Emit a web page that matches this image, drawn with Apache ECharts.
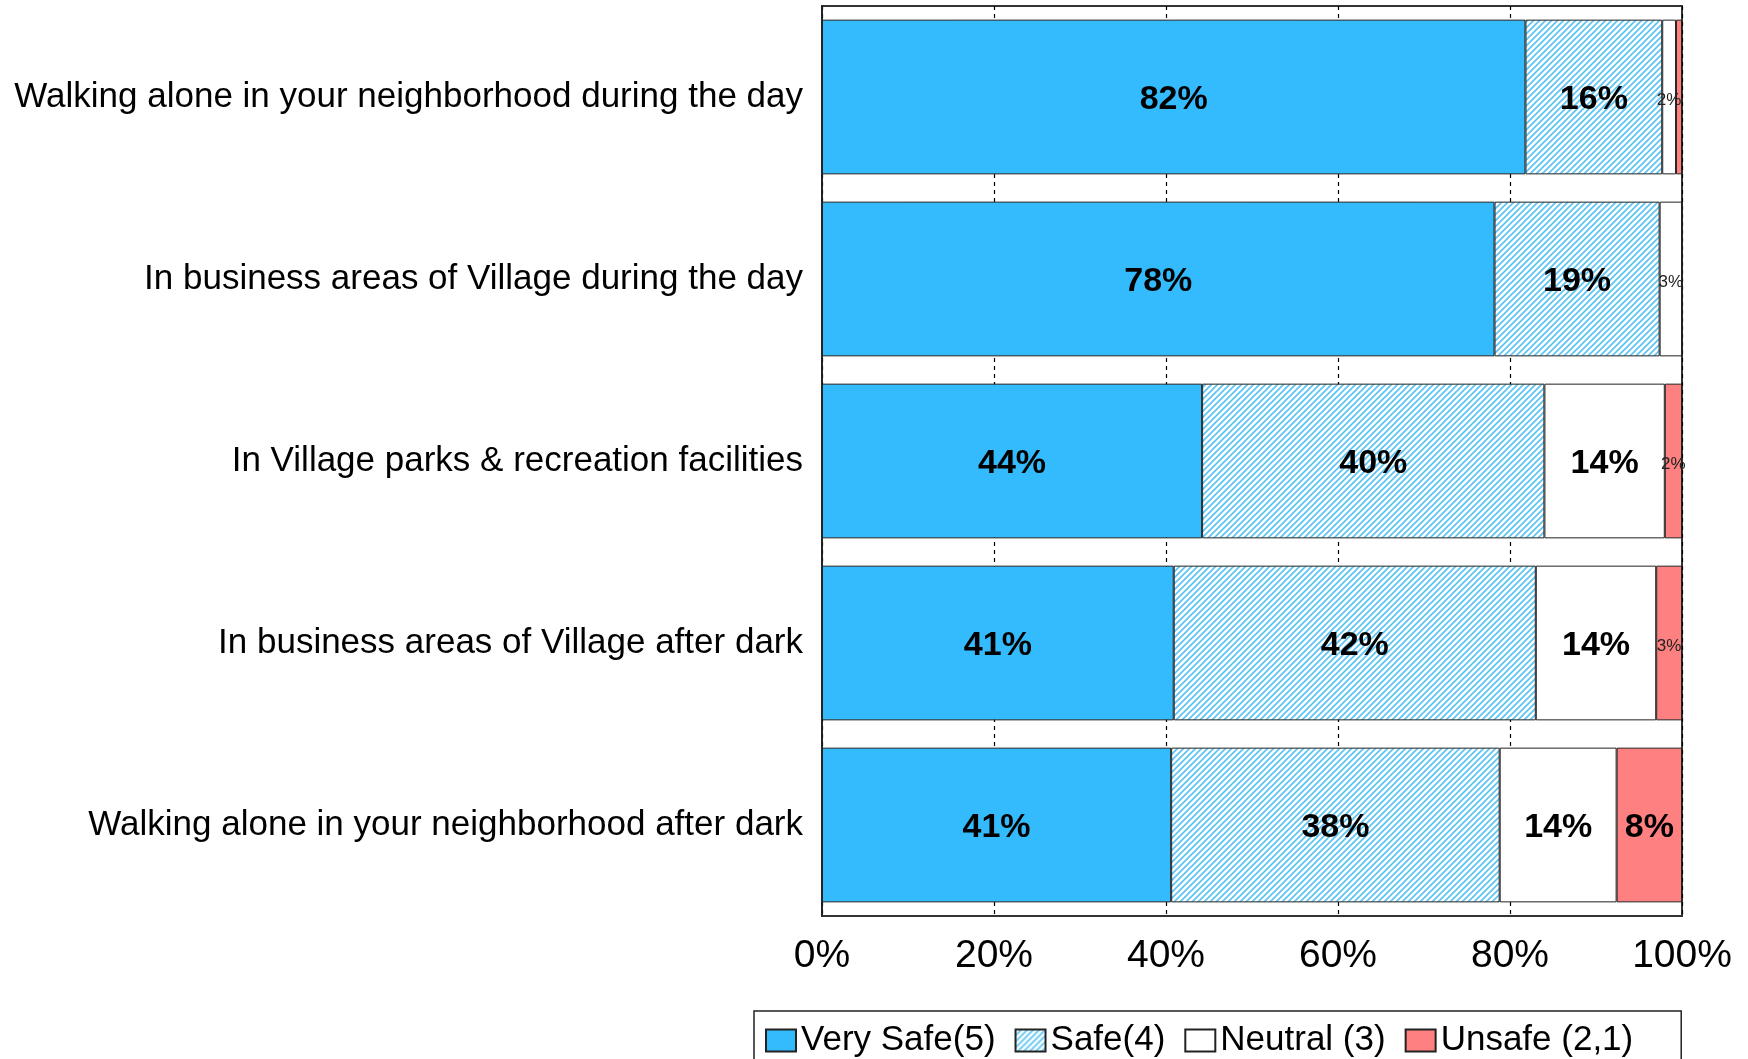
<!DOCTYPE html>
<html>
<head>
<meta charset="utf-8">
<style>
  html, body { margin: 0; padding: 0; background: #fff; }
  #chart { width: 1748px; height: 1059px; }
</style>
<script src="https://cdn.jsdelivr.net/npm/echarts@6/dist/echarts.min.js"></script>
</head>
<body>
<div id="chart"></div>
<script>
// Perceived safety survey: share of responses per situation
const categories = [
  'Walking alone in your neighborhood during the day',
  'In business areas of Village during the day',
  'In Village parks & recreation facilities',
  'In business areas of Village after dark',
  'Walking alone in your neighborhood after dark'
];
const seriesNames = ['Very Safe(5)', 'Safe(4)', 'Neutral (3)', 'Unsafe (2,1)'];
const verySafe = [81.8, 78.2, 44.2, 40.9, 40.6];
const safe     = [15.9, 19.2, 39.8, 42.1, 38.2];
const neutral  = [1.6, 2.6, 14.0, 14.0, 13.6];
const unsafe   = [0.7, 0, 2.0, 3.0, 7.6];
const axisTicks = [0, 20, 40, 60, 80, 100];

const FONT = "Arial, 'Liberation Sans', sans-serif";

// Diagonal light-blue hatch used for the "Safe" segments
function makeHatch() {
  const n = 6;
  const c = document.createElement('canvas');
  c.width = n; c.height = n;
  const g = c.getContext('2d');
  g.fillStyle = '#ffffff';
  g.fillRect(0, 0, n, n);
  g.strokeStyle = '#5cc4f5';
  g.lineWidth = 1.7;
  g.beginPath();
  g.moveTo(-1, n + 1); g.lineTo(n + 1, -1);
  g.moveTo(-1, 1); g.lineTo(1, -1);
  g.moveTo(n - 1, n + 1); g.lineTo(n + 1, n - 1);
  g.stroke();
  return { image: c, repeat: 'repeat' };
}

const fills = ['#33bbfd', makeHatch(), '#ffffff', '#ff8080'];
const values = [verySafe, safe, neutral, unsafe];

function segLabel(p) {
  const v = p.value;
  if (v < 1) return '';
  const txt = Math.round(v) + '%';
  return v < 5 ? '{s|' + txt + '}' : '{b|' + txt + '}';
}

const series = seriesNames.map((name, i) => ({
  name: name,
  type: 'bar',
  stack: 'total',
  barCategoryGap: '15%',
  data: values[i],
  itemStyle: { color: fills[i], borderColor: '#222', borderWidth: 1 },
  label: {
    show: true,
    position: 'inside',
    offset: [0, 3],
    formatter: segLabel,
    rich: {
      b: { fontFamily: FONT, fontSize: 34, fontWeight: 'bold', color: '#000' },
      s: { fontFamily: FONT, fontSize: 17, color: '#222' }
    }
  },
  emphasis: { disabled: true }
}));

const chart = echarts.init(document.getElementById('chart'));
chart.setOption({
  animation: false,
  backgroundColor: '#fff',
  grid: {
    left: 822, right: 66, top: 6, bottom: 143,
    show: true, borderColor: '#333', borderWidth: 2, backgroundColor: 'transparent'
  },
  xAxis: {
    type: 'value',
    min: axisTicks[0],
    max: axisTicks[axisTicks.length - 1],
    interval: axisTicks[1] - axisTicks[0],
    axisLine: { show: false },
    axisTick: { show: false },
    axisLabel: {
      formatter: '{value}%',
      fontFamily: FONT, fontSize: 39, color: '#000', margin: 21
    },
    splitLine: { show: true, lineStyle: { color: '#000', width: 1.2, type: [4, 4] } }
  },
  yAxis: {
    type: 'category',
    inverse: true,
    data: categories,
    axisLine: { show: true, lineStyle: { color: '#222', width: 1.5 } },
    axisTick: { show: false },
    axisLabel: { fontFamily: FONT, fontSize: 35, color: '#000', margin: 19, padding: [4, 0, 0, 0] }
  },
  legend: {
    data: seriesNames,
    left: 754,
    top: 1011,
    padding: [12, 48, 12, 11],
    itemWidth: 30,
    itemHeight: 22,
    itemGap: 19,
    icon: 'rect',
    borderColor: '#222',
    borderWidth: 1.5,
    textStyle: { fontFamily: FONT, fontSize: 35, color: '#000' },
    selectedMode: false
  },
  series: series
});
</script>
</body>
</html>
